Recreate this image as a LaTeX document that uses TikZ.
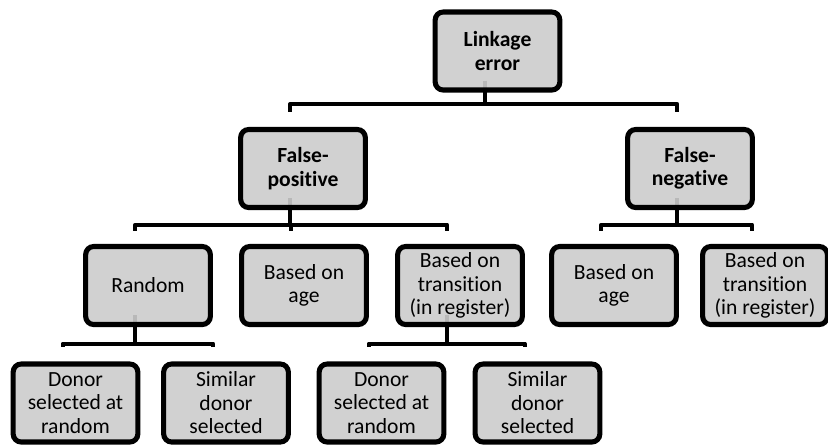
\documentclass[tikz,border=0pt]{standalone}
\usepackage{fontspec}
\setmainfont[Ligatures=NoCommon]{Carlito}
\usetikzlibrary{backgrounds}
\definecolor{boxgray}{RGB}{204,204,204}

\begin{document}
\begin{tikzpicture}[x=0.75pt,y=-0.75pt]
\tikzstyle{every node}+=[inner sep=0pt]
\tikzstyle{box}=[draw=black, line width=3.8pt, rounded corners=6pt, fill=boxgray, fill opacity=0.9, text opacity=1, minimum width=93.5pt, minimum height=58.5pt, align=center, font=\fontsize{16.2}{17.6}\selectfont]
\tikzstyle{head}=[box, font=\fontsize{16.2}{17.6}\selectfont\bfseries]
\tikzstyle{link}=[line width=3pt, line join=round]
\useasboundingbox (0,0) rectangle (828,444);
\node[head] (lk) at (497.5,51) {Linkage\\error};
\node[head] (fp) at (303,168.5) {False-\\positive};
\node[head] (fn) at (690,168.5) {False-\\negative};
\node[box] (ran) at (148,285.5) {Random};
\node[box] (agea) at (304,285.5) {Based on\\age};
\node[box] (tra) at (460,285.5) {Based on\\transition\\(in register)};
\node[box] (ageb) at (614,285.5) {Based on\\age};
\node[box] (trb) at (765,285.5) {Based on\\transition\\(in register)};
\node[box] (dona) at (75.5,403) {Donor\\selected at\\random};
\node[box] (sima) at (226,403) {Similar\\donor\\selected};
\node[box] (donb) at (381.5,403) {Donor\\selected at\\random};
\node[box] (simb) at (537.5,403) {Similar\\donor\\selected};
\begin{scope}[on background layer]
\foreach \c in {fp,fn}
  \draw[link] ([xshift=-9.6pt,yshift=9pt]lk.south) -- ++(0,-17.5pt) -| ([xshift=-9.6pt,yshift=11pt]\c.north);
\foreach \c in {ran,agea,tra}
  \draw[link] ([xshift=-9.6pt,yshift=9pt]fp.south) -- ++(0,-20pt) -| ([xshift=-9.6pt,yshift=10pt]\c.north);
\foreach \c in {ageb,trb}
  \draw[link] ([xshift=-9.6pt,yshift=9pt]fn.south) -- ++(0,-20pt) -| ([xshift=-9.6pt,yshift=10pt]\c.north);
\foreach \c in {dona,sima}
  \draw[link] ([xshift=-9.6pt,yshift=9pt]ran.south) -- ++(0,-21.4pt) -| ([xshift=-9.6pt,yshift=11pt]\c.north);
\foreach \c in {donb,simb}
  \draw[link] ([xshift=-9.6pt,yshift=9pt]tra.south) -- ++(0,-21.4pt) -| ([xshift=-9.6pt,yshift=11pt]\c.north);
\end{scope}
\end{tikzpicture}
\end{document}
